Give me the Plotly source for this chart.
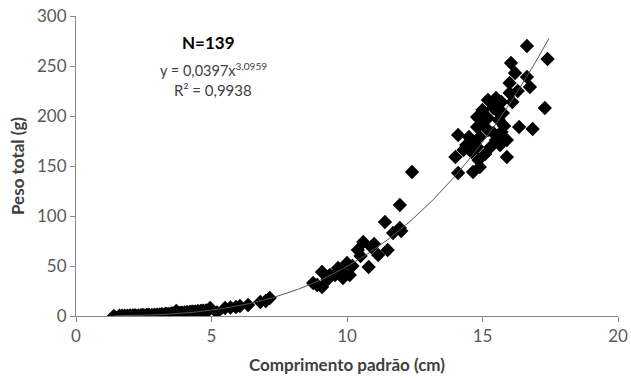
import numpy as np
import plotly.graph_objects as go

# Observed data: standard length (cm) and total weight (g)
comprimento = [
    1.4, 1.6, 1.7, 1.8, 1.9, 2.0, 2.1, 2.15, 2.2, 2.3, 2.4, 2.45, 2.5, 2.6, 2.65, 2.7, 2.8, 2.9,
    3.0, 3.0, 3.1, 3.15, 3.2, 3.3, 3.3, 3.35, 3.4, 3.5, 3.5, 3.55, 3.6, 3.7, 3.7, 3.8, 3.85,
    3.9, 3.9, 4.0, 4.1, 4.1, 4.2, 4.25, 4.3, 4.3, 4.4, 4.5, 4.5, 4.6, 4.65, 4.7, 4.8, 4.9,
    4.95, 5.2, 5.5, 5.7, 5.9, 6.05, 6.35, 6.8, 7.0, 7.15,
    8.75, 8.9, 9.08, 9.08, 9.3, 9.37, 9.56, 9.67, 9.7, 9.85, 9.85, 10.0, 10.1, 10.2, 10.4,
    10.5, 10.6, 10.8, 10.9, 11.0, 11.15, 11.4, 11.5, 11.7, 11.95, 11.95, 12.0, 12.4,
    14.0, 14.1, 14.1, 14.3, 14.4, 14.5, 14.6, 14.6, 14.65, 14.8, 14.8, 14.8, 14.85, 14.9,
    14.9, 15.0, 15.0, 15.1, 15.2, 15.2, 15.2, 15.3, 15.4, 15.4, 15.5, 15.5, 15.55, 15.6,
    15.65, 15.7, 15.7, 15.75, 15.8, 15.9, 15.9, 16.0, 16.0, 16.05, 16.1, 16.2, 16.3, 16.35,
    16.64, 16.64, 16.75, 16.85, 17.3, 17.4,
]
peso = [
    0.2, 0.3, 0.3, 0.4, 0.4, 0.5, 0.5, 0.6, 0.6, 0.7, 0.8, 0.8, 0.9, 1.0, 1.0, 1.1, 1.2, 1.3,
    1.4, 1.2, 1.5, 1.6, 1.6, 1.8, 2.0, 1.9, 2.1, 2.2, 2.4, 2.5, 2.6, 2.8, 5.0, 3.0, 3.1,
    3.2, 3.4, 3.5, 3.7, 3.9, 4.0, 4.1, 4.2, 4.4, 4.5, 4.7, 4.9, 5.0, 5.1, 5.3, 5.5, 6.0,
    8.0, 3.5, 8.0, 8.5, 9.0, 10.0, 11.0, 14.0, 15.0, 18.0,
    33, 31, 29, 44, 37, 41, 41, 48, 45, 43, 38, 53, 41, 50, 66,
    60, 74, 49, 69, 72, 61, 94, 66, 83, 88, 111, 85, 144,
    159, 181, 143, 166, 171, 179, 164, 174, 144, 199, 189, 169, 156, 179,
    149, 206, 192, 162, 216, 198, 186, 169, 208, 183, 176, 218, 205, 196,
    171, 214, 184, 203, 190, 176, 159, 233, 223, 253, 214, 243, 225, 189,
    270, 239, 229, 187, 208, 257,
]

# Power trendline y = a * x^b
coef_a = 0.0397
coef_b = 3.0959
trend_range = [1.4, 17.45]

x_ticks = [0, 5, 10, 15, 20]
y_ticks = [0, 50, 100, 150, 200, 250, 300]

xt = np.linspace(trend_range[0], trend_range[1], 200)
yt = coef_a * xt ** coef_b

FONT = "Lato, 'Open Sans', sans-serif"
AXIS_COLOR = "#888888"
W, H = 631, 380
ML, MT = 76, 16
PW, PH = 542, 300
MR, MB = W - ML - PW, H - MT - PH


def px2paper(px, py):
    return (px - ML) / PW, 1 - (py - MT) / PH


fig = go.Figure()
fig.add_trace(go.Scatter(
    x=comprimento, y=peso, mode="markers",
    marker=dict(symbol="diamond", size=11, color="black", line=dict(width=0)),
    showlegend=False, hoverinfo="skip",
))
fig.add_trace(go.Scatter(
    x=xt, y=yt, mode="lines",
    line=dict(color="#555555", width=1),
    showlegend=False, hoverinfo="skip",
))

ann = []
for (px, py, txt, size, col) in [
    (208, 42, "<b>N=139</b>", 17, "black"),
    (213, 70, "y = 0,0397x<sup>3,0959</sup>", 14.5, "#404040"),
    (213, 90, "R² = 0,9938", 15, "#404040"),
]:
    ax, ay = px2paper(px, py)
    ann.append(dict(x=ax, y=ay, xref="paper", yref="paper", text=txt,
                    showarrow=False, xanchor="center", yanchor="middle",
                    font=dict(size=size, color=col, family=FONT)))

fig.update_layout(
    width=W, height=H,
    margin=dict(l=ML, r=MR, t=MT, b=MB),
    plot_bgcolor="white", paper_bgcolor="white",
    font=dict(family=FONT, size=16, color="#595959"),
    xaxis=dict(
        range=[0, 20], tickvals=x_ticks, showgrid=False, zeroline=False,
        showline=True, linecolor=AXIS_COLOR, linewidth=1, automargin=False,
        ticks="outside", ticklen=5, tickcolor=AXIS_COLOR,
        ticklabeloverflow="allow",
        tickfont=dict(size=17, color="#595959"),
        title=dict(text="<b>Comprimento padrão (cm)</b>",
                   font=dict(size=17, color="#404040"), standoff=13),
    ),
    yaxis=dict(
        range=[0, 300], tickvals=y_ticks, showgrid=False, zeroline=False,
        showline=True, linecolor=AXIS_COLOR, linewidth=1, automargin=False,
        ticks="outside", ticklen=5, tickcolor=AXIS_COLOR,
        ticklabeloverflow="allow",
        tickfont=dict(size=17, color="#595959"),
        title=dict(text="<b>Peso total (g)</b>",
                   font=dict(size=17, color="#404040"), standoff=8),
    ),
    annotations=ann,
)

fig.write_html(
    "out.html",
    config={"displayModeBar": False},
    post_script="document.body.style.margin='0px';document.body.style.overflow='hidden';",
)
